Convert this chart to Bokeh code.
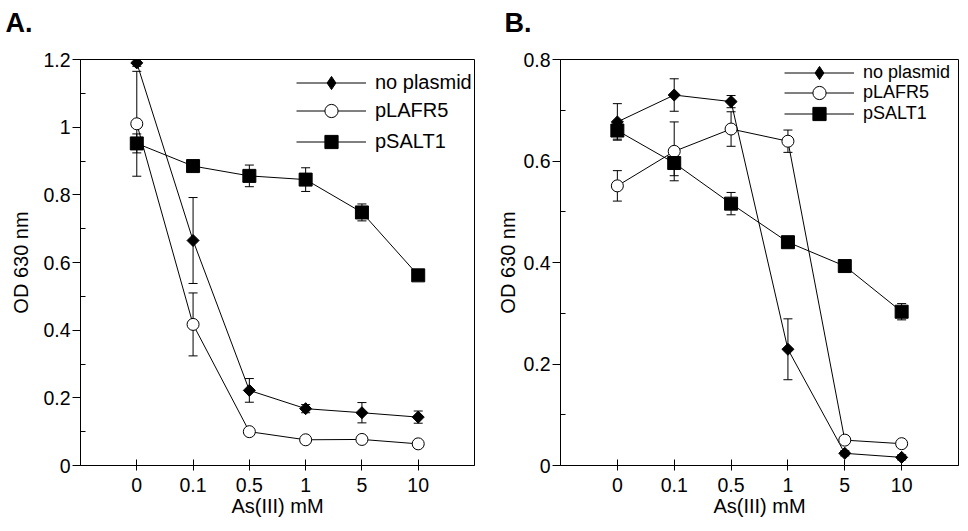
import numpy as np
from bokeh.plotting import figure
from bokeh.models import (ColumnDataSource, Range1d, FactorRange, FixedTicker, Whisker,
                          TeeHead, Legend, LegendItem, CustomJSTickFormatter, Title)
from bokeh.layouts import row
from bokeh.embed import file_html
from bokeh.resources import INLINE

# ---------------- data ----------------
concentrations = ["0", "0.1", "0.5", "1", "5", "10"]
series_names = ["no plasmid", "pLAFR5", "pSALT1"]

# Panel A
a_no_plasmid = [1.19, 0.665, 0.222, 0.168, 0.156, 0.143]
a_no_plasmid_err = [0.01, 0.127, 0.035, 0.012, 0.03, 0.018]
a_plafr5 = [1.01, 0.417, 0.100, 0.076, 0.077, 0.064]
a_plafr5_err = [0.155, 0.093, 0.005, 0.005, 0.005, 0.005]
a_psalt1 = [0.952, 0.885, 0.856, 0.845, 0.748, 0.562]
a_psalt1_err = [0.028, 0.01, 0.032, 0.035, 0.025, 0.01]

# Panel B
b_no_plasmid = [0.677, 0.730, 0.717, 0.229, 0.024, 0.016]
b_no_plasmid_err = [0.036, 0.032, 0.012, 0.06, 0.005, 0.005]
b_plafr5 = [0.551, 0.619, 0.663, 0.639, 0.050, 0.043]
b_plafr5_err = [0.03, 0.058, 0.034, 0.022, 0.005, 0.005]
b_psalt1 = [0.660, 0.596, 0.516, 0.440, 0.393, 0.303]
b_psalt1_err = [0.017, 0.025, 0.022, 0.005, 0.005, 0.016]

a_y_ticks = [0, 0.2, 0.4, 0.6, 0.8, 1, 1.2]
a_y_minor = [0.1, 0.3, 0.5, 0.7, 0.9, 1.1]
b_y_ticks = [0, 0.2, 0.4, 0.6, 0.8]
b_y_minor = [0.1, 0.3, 0.5, 0.7]

FONT = "Liberation Sans"
FRAME_H = 406
GLYPH_H = 33

marker_styles = [
    dict(marker="square", legend_marker="diamond", angle=np.pi / 4, size=8.5,
         fill_color="black"),
    dict(marker="circle", legend_marker="circle", angle=0.0, size=12, fill_color="white"),
    dict(marker="square", legend_marker="square", angle=0.0, size=13, fill_color="black"),
]


def make_panel(title, means, errs, ymax, yticks, yminor, frame_w, border_left, border_right,
               title_offset, ylabel_standoff, legend_x, legend_rows, legend_font):
    p = figure(frame_width=frame_w, frame_height=FRAME_H,
               x_range=FactorRange(factors=concentrations, range_padding=0.5,
                                   range_padding_units="absolute"),
               y_range=Range1d(0, ymax),
               output_backend="svg", toolbar_location=None,
               min_border_left=border_left, min_border_right=border_right,
               min_border_top=59, min_border_bottom=10,
               background_fill_color="white", border_fill_color="white")

    # panel letter (outermost title) with a small spacer title next to the frame
    p.title.text = title
    p.title.text_font = FONT
    p.title.text_font_size = "27px"
    p.title.text_font_style = "bold"
    p.title.text_color = "black"
    p.title.align = "left"
    p.title.offset = title_offset
    p.title.standoff = 0
    p.add_layout(Title(text=" ", text_font_size="10px", standoff=9), "above")

    p.xgrid.visible = False
    p.ygrid.visible = False
    p.outline_line_color = "black"
    p.outline_line_alpha = 1
    p.outline_line_width = 1

    for name, m, e, st, row_y in zip(series_names, means, errs, marker_styles, legend_rows):
        src = ColumnDataSource(dict(
            x=concentrations, y=m,
            upper=[v + d for v, d in zip(m, e)],
            lower=[v - d for v, d in zip(m, e)]))
        w = Whisker(source=src, base="x", upper="upper", lower="lower", dimension="height",
                    line_color="black", line_width=1, level="underlay",
                    upper_head=TeeHead(size=9, line_color="black", line_width=1),
                    lower_head=TeeHead(size=9, line_color="black", line_width=1))
        p.add_layout(w)
        lr = p.line("x", "y", source=src, line_color="black", line_width=1)
        p.scatter("x", "y", source=src, marker=st["marker"], angle=st["angle"],
                  size=st["size"], fill_color=st["fill_color"],
                  line_color="black", line_width=1)
        # legend-only marker renderer (not drawn in the plot area)
        leg_r = p.scatter("x", "y", source=src, marker=st["legend_marker"], size=10,
                          fill_color=st["fill_color"], line_color="black", line_width=1,
                          visible=False)
        legend = Legend(items=[LegendItem(label=name, renderers=[lr, leg_r])],
                        location=(legend_x, FRAME_H - row_y - GLYPH_H / 2),
                        glyph_width=70, glyph_height=GLYPH_H, label_height=18,
                        label_standoff=9, label_text_font=FONT,
                        label_text_font_size=legend_font, label_text_color="black",
                        border_line_alpha=0, background_fill_alpha=0,
                        margin=0, padding=0, spacing=0)
        p.add_layout(legend)

    xa = p.xaxis[0]
    xa.axis_line_color = "black"
    xa.major_tick_line_color = "black"
    xa.major_tick_in = 6
    xa.major_tick_out = 5
    xa.major_label_text_font = FONT
    xa.major_label_text_font_size = "19.5px"
    xa.major_label_text_color = "black"
    xa.major_label_standoff = 7
    xa.axis_label = "As(III) mM"
    xa.axis_label_text_font = FONT
    xa.axis_label_text_font_size = "20px"
    xa.axis_label_text_font_style = "normal"
    xa.axis_label_text_color = "black"
    xa.axis_label_standoff = 0

    ya = p.yaxis[0]
    ya.ticker = FixedTicker(ticks=yticks, minor_ticks=yminor)
    ya.formatter = CustomJSTickFormatter(code="return String(tick);")
    ya.axis_line_color = "black"
    ya.major_tick_line_color = "black"
    ya.minor_tick_line_color = "black"
    ya.major_tick_in = 0
    ya.major_tick_out = 8
    ya.minor_tick_in = 5
    ya.minor_tick_out = 0
    ya.major_label_text_font = FONT
    ya.major_label_text_font_size = "19.5px"
    ya.major_label_text_color = "black"
    ya.major_label_standoff = 2
    ya.axis_label = "OD 630 nm"
    ya.axis_label_text_font = FONT
    ya.axis_label_text_font_size = "20px"
    ya.axis_label_text_font_style = "normal"
    ya.axis_label_text_color = "black"
    ya.axis_label_standoff = ylabel_standoff
    return p


pA = make_panel("A.", [a_no_plasmid, a_plafr5, a_psalt1],
                [a_no_plasmid_err, a_plafr5_err, a_psalt1_err],
                1.2, a_y_ticks, a_y_minor, 394, 80, 2, -75, 8, 216, [23, 51, 82], "20px")
pB = make_panel("B.", [b_no_plasmid, b_plafr5, b_psalt1],
                [b_no_plasmid_err, b_plafr5_err, b_psalt1_err],
                0.8, b_y_ticks, b_y_minor, 398, 84, 1, -56, 1, 224, [13, 33.5, 54], "18px")

layout = row(pA, pB)
open("out.html", "w").write(file_html(layout, INLINE))
